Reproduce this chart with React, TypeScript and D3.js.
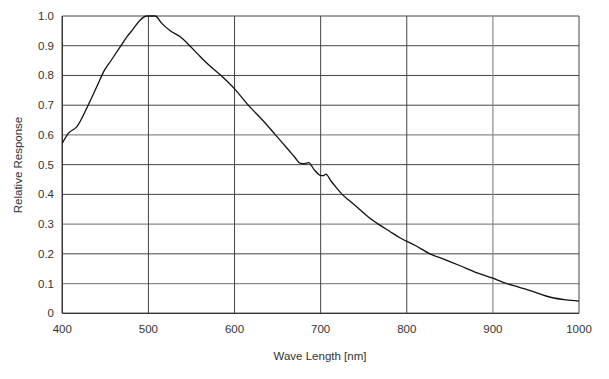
import React from "react";
import * as d3 from "d3";

const wavelengths = [400, 407, 417, 430, 440, 449, 457, 467, 475, 482, 490, 498, 508, 515, 525, 537, 548, 558, 568, 585, 600, 616, 634, 647, 661, 670, 676, 681, 686, 692, 699, 703, 706, 712, 719, 725, 735, 745, 755, 767, 780, 792, 810, 827, 845, 862, 880, 900, 912, 930, 947, 967, 985, 1000];
const response = [0.572, 0.605, 0.628, 0.70, 0.762, 0.818, 0.852, 0.895, 0.93, 0.955, 0.985, 1.0, 1.0, 0.977, 0.951, 0.93, 0.90, 0.87, 0.841, 0.798, 0.755, 0.70, 0.645, 0.602, 0.555, 0.525, 0.505, 0.503, 0.507, 0.485, 0.465, 0.463, 0.468, 0.445, 0.42, 0.40, 0.375, 0.35, 0.325, 0.30, 0.276, 0.254, 0.228, 0.20, 0.18, 0.16, 0.138, 0.118, 0.104, 0.088, 0.073, 0.054, 0.045, 0.041];
const xTicks = [400, 500, 600, 700, 800, 900, 1000];
const yTicks = [0, 0.1, 0.2, 0.3, 0.4, 0.5, 0.6, 0.7, 0.8, 0.9, 1.0];
const yTickLabels = ["0", "0.1", "0.2", "0.3", "0.4", "0.5", "0.6", "0.7", "0.8", "0.9", "1.0"];
const lightY = [0.1, 0.3, 0.6];
const lightX = [900];

export default function App() {
  const W = 609, H = 379;
  const x = d3.scaleLinear().domain([400, 1000]).range([62.3, 579]);
  const y = d3.scaleLinear().domain([0, 1]).range([313.3, 16]);
  const pts = wavelengths.map((w, i) => [w, response[i]] as [number, number]);
  const line = d3.line<[number, number]>().x(d => x(d[0])).y(d => y(d[1])).curve(d3.curveMonotoneX);
  const font = "'Liberation Sans', Arial, sans-serif";
  return (
    <svg width={W} height={H} style={{ position: "absolute", left: 0, top: 0, background: "#fff" }} fontFamily={font}>
      {yTicks.map((t, i) => (
        <line key={"h" + i} x1={x(400)} x2={x(1000)} y1={y(t)} y2={y(t)}
          stroke={lightY.includes(t) ? "#8a8a8a" : "#444"} strokeWidth={lightY.includes(t) ? 1.2 : 1} />
      ))}
      {xTicks.map((t, i) => (
        <line key={"v" + i} x1={x(t)} x2={x(t)} y1={y(0)} y2={y(1)}
          stroke={lightX.includes(t) ? "#8a8a8a" : "#444"} strokeWidth={lightX.includes(t) ? 1.2 : 1} />
      ))}
      <line x1={x(400)} x2={x(1000)} y1={y(0)} y2={y(0)} stroke="#333" strokeWidth={1.3} />
      <line x1={x(400)} x2={x(400)} y1={y(0)} y2={y(1)} stroke="#333" strokeWidth={1.3} />
      <path d={line(pts) || ""} fill="none" stroke="#111" strokeWidth={1.3} />
      {yTicks.map((t, i) => (
        <text key={"yl" + i} x={54} y={y(t)} dy="0.35em" textAnchor="end" fontSize={11.5} fill="#333">{yTickLabels[i]}</text>
      ))}
      {xTicks.map((t, i) => (
        <text key={"xl" + i} x={x(t)} y={329} dy="0.35em" textAnchor="middle" fontSize={11.5} fill="#333">{t}</text>
      ))}
      <text x={320} y={356} dy="0.35em" textAnchor="middle" fontSize={11.5} fill="#333">Wave Length [nm]</text>
      <text transform={`translate(18,165) rotate(-90)`} dy="0.35em" textAnchor="middle" fontSize={11.5} fill="#333">Relative Response</text>
    </svg>
  );
}
